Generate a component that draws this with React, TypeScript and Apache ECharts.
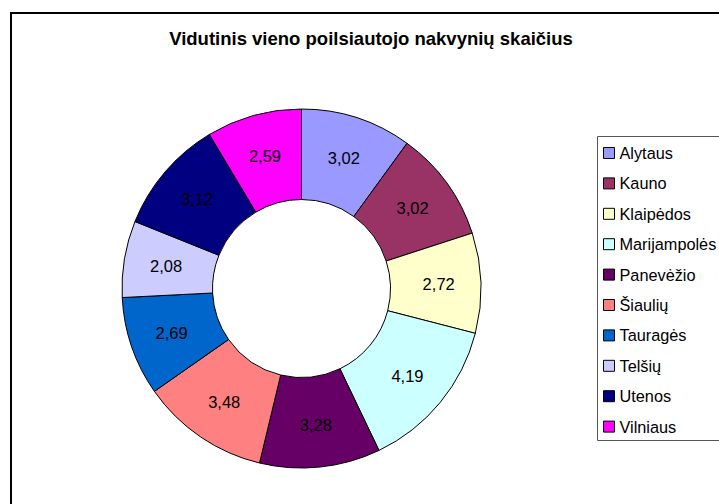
import React, { useEffect, useRef } from "react";
import * as echarts from "echarts";

const titleText = "Vidutinis vieno poilsiautojo nakvynių skaičius";
const categories = ["Alytaus", "Kauno", "Klaipėdos", "Marijampolės", "Panevėžio", "Šiaulių", "Tauragės", "Telšių", "Utenos", "Vilniaus"];
const values = [3.02, 3.02, 2.72, 4.19, 3.28, 3.48, 2.69, 2.08, 3.12, 2.59];
const colors = ["#9999FF", "#993366", "#FFFFCC", "#CCFFFF", "#660066", "#FF8080", "#0066CC", "#CCCCFF", "#000080", "#FF00FF"];

const FONT = "'Liberation Sans', Arial, Helvetica, sans-serif";

export default function App() {
  const ref = useRef<HTMLDivElement>(null);
  useEffect(() => {
    if (!ref.current) return;
    const chart = echarts.init(ref.current, null, { renderer: "svg" });
    chart.setOption({
      animation: false,
      backgroundColor: "#ffffff",
      color: colors,
      graphic: [
        {
          type: "rect",
          shape: { x: 11, y: 13, width: 900, height: 700 },
          style: { fill: "none", stroke: "#000000", lineWidth: 2 },
          silent: true,
          z: 0,
        },
        {
          type: "rect",
          shape: { x: 597.5, y: 136.5, width: 200, height: 304 },
          style: { fill: "#ffffff", stroke: "#555555", lineWidth: 1 },
          silent: true,
          z: 1,
        },
        {
          type: "text",
          x: 371,
          y: 38.5,
          style: {
            text: titleText,
            font: `bold 18.5px ${FONT}`,
            fill: "#000000",
            align: "center",
            verticalAlign: "middle",
          },
          silent: true,
          z: 2,
        },
      ],
      legend: {
        orient: "vertical",
        left: 603,
        top: 144,
        padding: 0,
        itemWidth: 11,
        itemHeight: 11,
        itemGap: 12.4,
        icon: "rect",
        z: 5,
        itemStyle: { borderColor: "#000000", borderWidth: 1 },
        textStyle: { fontFamily: FONT, fontSize: 16.3, color: "#000000", lineHeight: 18 },
        data: categories,
        selectedMode: false,
      },
      series: [
        {
          type: "pie",
          center: [301.5, 288.5],
          radius: [89, 179.5],
          startAngle: 90,
          clockwise: true,
          avoidLabelOverlap: false,
          silent: true,
          itemStyle: { borderColor: "#000000", borderWidth: 1 },
          label: {
            show: true,
            position: "inside",
            fontFamily: FONT,
            fontSize: 16.5,
            color: "#000000",
            formatter: (p: any) => Number(p.value).toFixed(2).replace(".", ","),
          },
          labelLine: { show: false },
          emphasis: { disabled: true, scale: false },
          data: categories.map((c, i) => ({ name: c, value: values[i] })),
        },
      ],
    });
    return () => chart.dispose();
  }, []);
  return <div ref={ref} style={{ position: "fixed", left: 0, top: 0, width: 719, height: 504 }} />;
}
